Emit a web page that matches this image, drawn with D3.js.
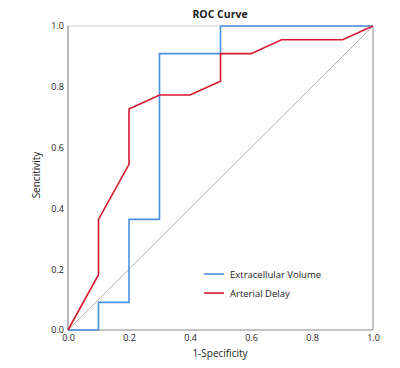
<!DOCTYPE html>
<html>
<head>
  <meta charset="UTF-8" />
  <script src="https://d3js.org/d3.v7.min.js"></script>
  <style>
    body { margin: 0; background: white; font-family: "Open Sans", sans-serif; }
  </style>
</head>
<body>
  <svg width="400" height="368"></svg>
  <script>
    // ROC-Punkte (1-Spezifitaet, Sensitivitaet)
    const ecvX = [0, 0.1, 0.1, 0.2, 0.2, 0.3, 0.3, 0.5, 0.5, 1];
    const ecvY = [0, 0, 0.0909, 0.0909, 0.364, 0.364, 0.909, 0.909, 1, 1];
    const adX = [0, 0.1, 0.1, 0.2, 0.2, 0.3, 0.4, 0.5, 0.5, 0.6, 0.7, 0.9, 1];
    const adY = [0, 0.182, 0.364, 0.545, 0.727, 0.773, 0.773, 0.818, 0.909, 0.909, 0.955, 0.955, 1];
    const ticks = [0, 0.2, 0.4, 0.6, 0.8, 1.0];
    const serien = [
      { name: "Extracellular Volume", xs: ecvX, ys: ecvY, farbe: "#4a90e2" },
      { name: "Arterial Delay", xs: adX, ys: adY, farbe: "#d7172f" }
    ];

    const svg = d3.select("svg");
    const x = d3.scaleLinear().domain([0, 1]).range([68, 373]);
    const y = d3.scaleLinear().domain([0, 1]).range([330, 26]);

    // Rahmen
    svg.append("line").attr("x1", x(0)).attr("x2", x(1)).attr("y1", y(1)).attr("y2", y(1))
      .attr("stroke", "#d0d0d0").attr("stroke-width", 1.2);
    svg.append("line").attr("x1", x(1)).attr("x2", x(1)).attr("y1", y(1)).attr("y2", y(0))
      .attr("stroke", "#a0a0a0").attr("stroke-width", 1.2);
    svg.append("line").attr("x1", x(0)).attr("x2", x(1)).attr("y1", y(0)).attr("y2", y(0))
      .attr("stroke", "#888").attr("stroke-width", 1.2);
    svg.append("line").attr("x1", x(0)).attr("x2", x(0)).attr("y1", y(1)).attr("y2", y(0))
      .attr("stroke", "#888").attr("stroke-width", 1.2);

    // Achsen ohne Striche
    const xAxis = svg.append("g").attr("transform", `translate(0,${y(0)})`)
      .call(d3.axisBottom(x).tickValues(ticks).tickFormat(d3.format(".1f")).tickSize(0).tickPadding(5));
    const yAxis = svg.append("g").attr("transform", `translate(${x(0)},0)`)
      .call(d3.axisLeft(y).tickValues(ticks).tickFormat(d3.format(".1f")).tickSize(0).tickPadding(4));
    [xAxis, yAxis].forEach(a => {
      a.select(".domain").remove();
      a.selectAll("text").attr("font-family", "Open Sans, sans-serif").attr("font-size", 9).attr("fill", "#222");
    });

    // Diagonale
    svg.append("line").attr("x1", x(0)).attr("y1", y(0)).attr("x2", x(1)).attr("y2", y(1))
      .attr("stroke", "#999").attr("stroke-width", 0.8);

    const linie = d3.line().x(d => x(d[0])).y(d => y(d[1]));
    serien.forEach(s => {
      svg.append("path")
        .datum(s.xs.map((v, i) => [v, s.ys[i]]))
        .attr("d", linie)
        .attr("fill", "none")
        .attr("stroke", s.farbe)
        .attr("stroke-width", 1.6);
    });

    // Legende
    serien.forEach((s, i) => {
      const ly = 274 + i * 19;
      svg.append("line").attr("x1", 204).attr("x2", 224).attr("y1", ly).attr("y2", ly)
        .attr("stroke", s.farbe).attr("stroke-width", 1.6);
      svg.append("text").attr("x", 230).attr("y", ly + 3.5)
        .attr("font-size", 9.5).attr("fill", "#222").text(s.name);
    });

    svg.append("text").attr("x", 220).attr("y", 18).attr("text-anchor", "middle")
      .attr("font-size", 10.5).attr("font-weight", "bold").attr("fill", "#222").text("ROC Curve");
    svg.append("text").attr("x", 220).attr("y", 357).attr("text-anchor", "middle")
      .attr("font-size", 10).attr("fill", "#222").text("1-Specificity");
    svg.append("text").attr("transform", "translate(40,175) rotate(-90)").attr("text-anchor", "middle")
      .attr("font-size", 10).attr("fill", "#222").text("Sencitivity");
  </script>
</body>
</html>
